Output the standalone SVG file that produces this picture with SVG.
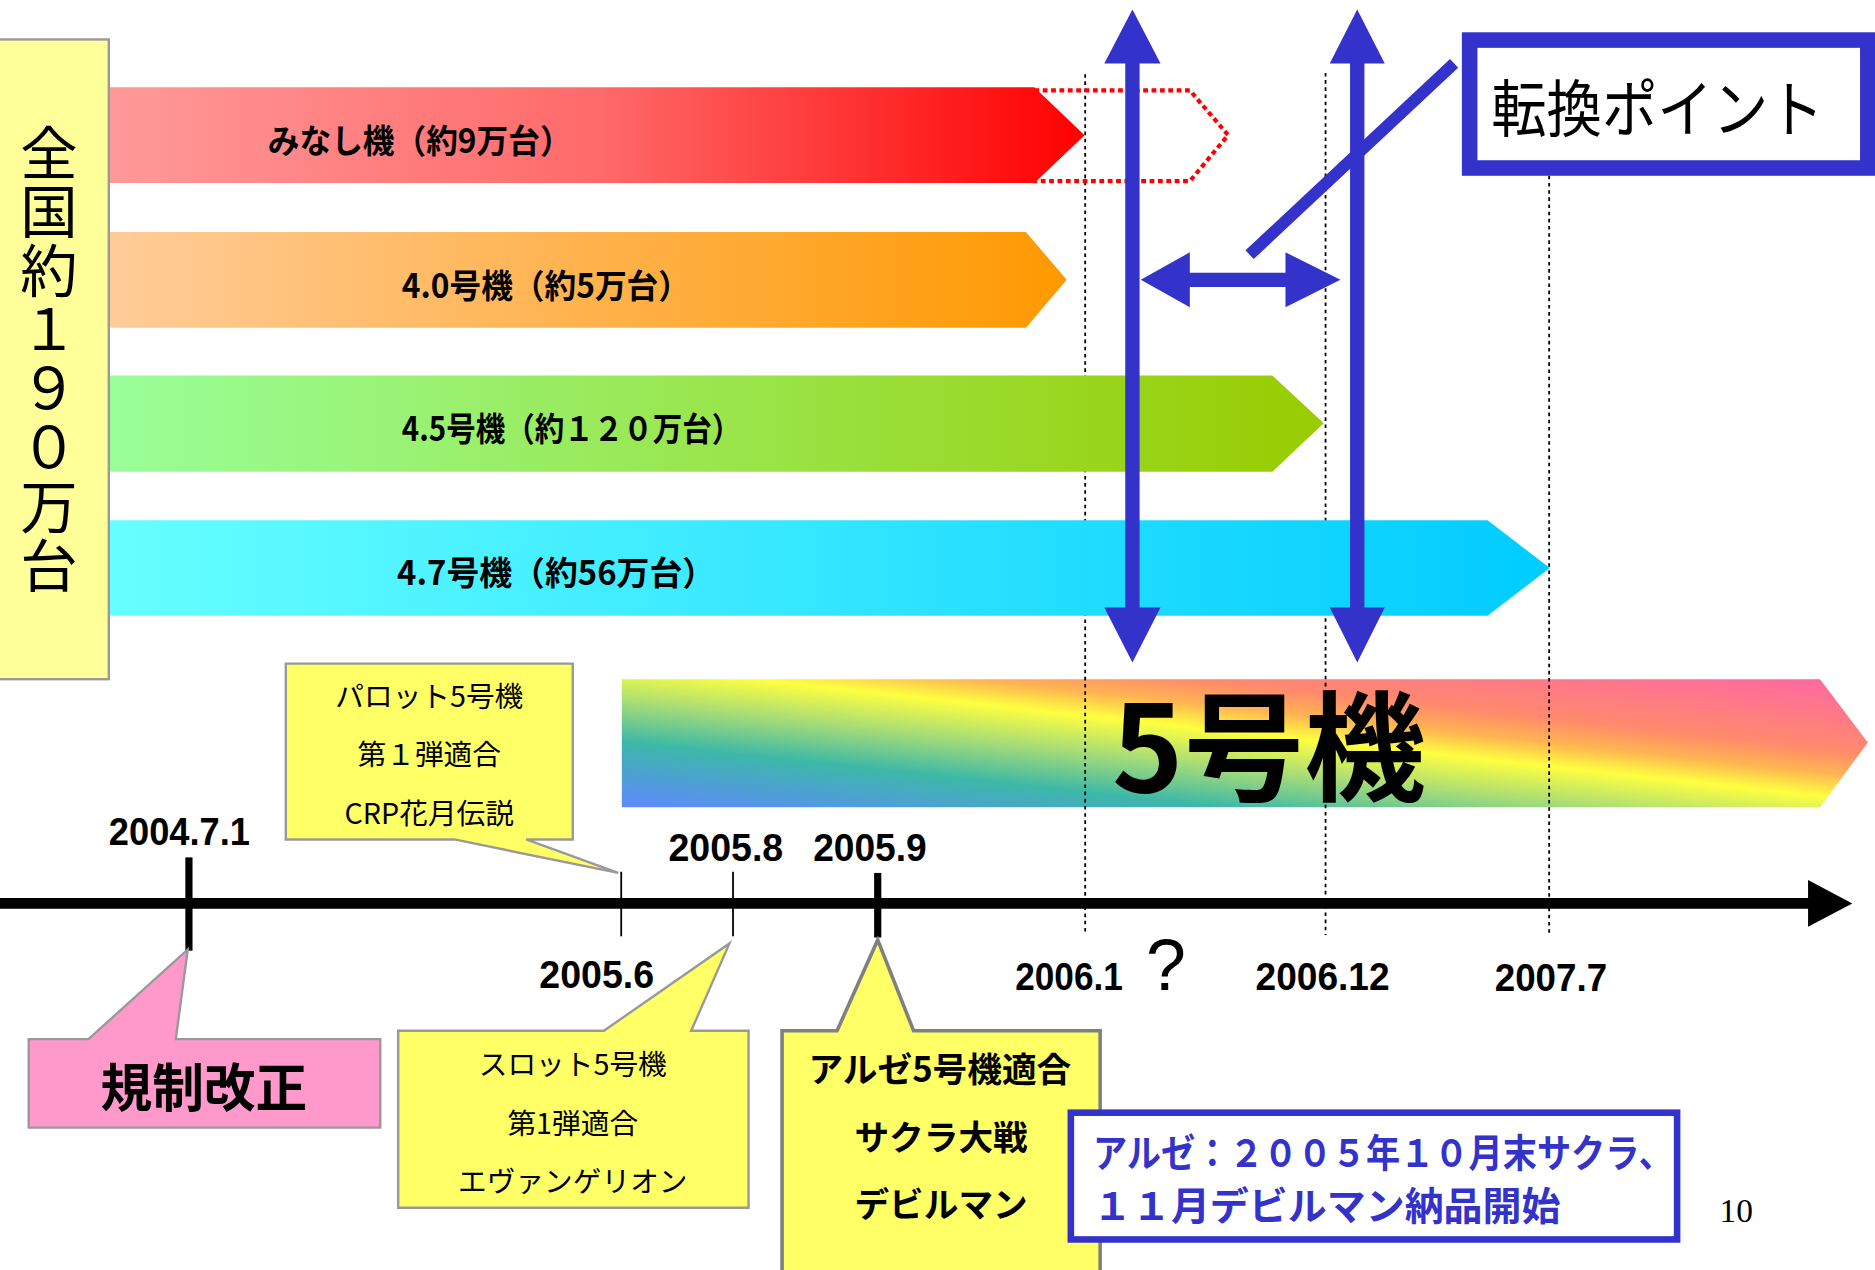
<svg xmlns="http://www.w3.org/2000/svg" width="1875" height="1270" viewBox="0 0 1875 1270">
<defs>
<linearGradient id="gRed" x1="0" y1="0" x2="1" y2="0"><stop offset="0" stop-color="#FF9999"/><stop offset="0.5" stop-color="#FF6A6A"/><stop offset="1" stop-color="#FF0000"/></linearGradient>
<linearGradient id="gOrange" x1="0" y1="0" x2="1" y2="0"><stop offset="0" stop-color="#FFCC99"/><stop offset="1" stop-color="#FF9900"/></linearGradient>
<linearGradient id="gGreen" x1="0" y1="0" x2="1" y2="0"><stop offset="0" stop-color="#99FF99"/><stop offset="1" stop-color="#99CC00"/></linearGradient>
<linearGradient id="gCyan" x1="0" y1="0" x2="1" y2="0"><stop offset="0" stop-color="#66FFFF"/><stop offset="1" stop-color="#00CCFF"/></linearGradient>
<linearGradient id="gRainbow" gradientUnits="userSpaceOnUse" x1="1562" y1="568" x2="1538" y2="787">
<stop offset="0" stop-color="#FF66A6"/><stop offset="0.28" stop-color="#FF8A6C"/><stop offset="0.37" stop-color="#FFB452"/><stop offset="0.46" stop-color="#FFFF40"/><stop offset="0.6" stop-color="#A6DC78"/><stop offset="0.75" stop-color="#3CB8A8"/><stop offset="1" stop-color="#6088FF"/>
</linearGradient>
</defs>
<style>
.jp{font-family:"Noto Sans CJK JP","Noto Sans CJK SC",sans-serif}
.b{font-weight:bold}
.num{font-family:"Liberation Sans",Arial,sans-serif;font-weight:bold;font-size:33px;fill:#000}
.call{fill:#FFFF66;stroke:#999999;stroke-width:2}
.dot{stroke:#000;stroke-width:1.5;stroke-dasharray:3 3;fill:none}
.blue{fill:#3333CC}
.bar{font-size:28px;font-weight:bold}
.ctext{font-size:24px}
.vert{writing-mode:vertical-rl}
</style>
<rect x="0" y="0" width="1875" height="1270" fill="#FFFFFF"/>
<g transform="scale(1.1958)">
<g id="total">
<rect x="-2" y="33" width="93" height="535" fill="#FFFF99" stroke="#999999" stroke-width="2"/>
<text class="jp vert" font-size="48" x="41" y="103" letter-spacing="1.4">全国約１９０万台</text>
</g>
<g id="gen5">
<polygon points="520,568 1522,568 1562,621 1522,675 520,675" fill="url(#gRainbow)"/>
</g>
<g id="guides">
<line class="dot" x1="907.5" y1="62" x2="907.5" y2="782"/>
<line class="dot" x1="1108.5" y1="61" x2="1108.5" y2="782"/>
<line class="dot" x1="1295.5" y1="147" x2="1295.5" y2="782"/>
</g>
<text class="jp b" font-size="100" x="930" y="662" textLength="262" lengthAdjust="spacingAndGlyphs">5号機</text>
<g id="minashi">
<polyline points="865,75.5 995,75.5 1027,113 995,151.5 860,151.5" fill="none" stroke="#FF0000" stroke-width="3.5" stroke-dasharray="4 3"/>
<polygon points="92,73 865,73 907,113 865,153 92,153" fill="url(#gRed)"/>
<text class="jp bar" x="224" y="128" textLength="254" lengthAdjust="spacingAndGlyphs">みなし機（約9万台）</text>
</g>
<g id="g40">
<polygon points="92,194 858,194 892,234 858,274 92,274" fill="url(#gOrange)"/>
<text class="jp bar" x="336" y="249" textLength="241" lengthAdjust="spacingAndGlyphs">4.0号機（約5万台）</text>
</g>
<g id="g45">
<polygon points="92,314 1064,314 1107,354 1064,394.5 92,394.5" fill="url(#gGreen)"/>
<text class="jp bar" x="336" y="369" textLength="284" lengthAdjust="spacingAndGlyphs">4.5号機（約１２０万台）</text>
</g>
<g id="g47">
<polygon points="92,435 1244,435 1296,475 1244,515 92,515" fill="url(#gCyan)"/>
<text class="jp bar" x="332" y="489" textLength="266" lengthAdjust="spacingAndGlyphs">4.7号機（約56万台）</text>
</g>
<g id="timeline">
<line x1="0" y1="755.5" x2="1515" y2="755.5" stroke="#000" stroke-width="9"/>
<polygon points="1512,736 1549,755.5 1512,775" fill="#000"/>
<rect x="155" y="717" width="6" height="78" fill="#000"/>
<line x1="519.5" y1="729" x2="519.5" y2="783" stroke="#000" stroke-width="1.5"/>
<line x1="613" y1="729" x2="613" y2="783" stroke="#000" stroke-width="1.5"/>
<rect x="731" y="730" width="6" height="54" fill="#000"/>
<text class="num" x="91" y="707" textLength="118" lengthAdjust="spacingAndGlyphs">2004.7.1</text>
<text class="num" x="559" y="720" textLength="96" lengthAdjust="spacingAndGlyphs">2005.8</text>
<text class="num" x="680" y="720" textLength="95" lengthAdjust="spacingAndGlyphs">2005.9</text>
<text class="num" x="451" y="826" textLength="96" lengthAdjust="spacingAndGlyphs">2005.6</text>
<text class="num" x="849" y="828" textLength="90" lengthAdjust="spacingAndGlyphs">2006.1</text>
<text class="num" x="1050" y="828" textLength="112" lengthAdjust="spacingAndGlyphs">2006.12</text>
<text class="num" x="1250" y="829" textLength="94" lengthAdjust="spacingAndGlyphs">2007.7</text>
<text x="975" y="828" font-family="Liberation Sans,Arial,sans-serif" font-size="60" text-anchor="middle">?</text>
</g>
<g id="kisei">
<path d="M24,869 H74 L157,794 L147,869 H318 V943 H24 Z" fill="#FF99CC" stroke="#999999" stroke-width="2"/>
<text class="jp b" font-size="44" x="84" y="926" textLength="173" lengthAdjust="spacingAndGlyphs">規制改正</text>
</g>
<g id="pachislot">
<path class="call" d="M239,555 H479 V702 H440 L517,730 L380,702 H239 Z"/>
<text class="jp ctext" text-anchor="middle"><tspan x="359" y="591">パロット5号機</tspan><tspan x="359" y="640">第１弾適合</tspan><tspan x="359" y="689">CRP花月伝説</tspan></text>
</g>
<g id="slot">
<path class="call" d="M333,862 H505 L610,789 L578,862 H626 V1010 H333 Z"/>
<text class="jp ctext" text-anchor="middle"><tspan x="479" y="899">スロット5号機</tspan><tspan x="479" y="948">第1弾適合</tspan><tspan x="479" y="997">エヴァンゲリオン</tspan></text>
</g>
<g id="aruze">
<path d="M654,862 H700 L734,786 L764,862 H920 V1075 H654 Z" fill="#FFFF66" stroke="#808080" stroke-width="3"/>
<text class="jp b" font-size="29" text-anchor="middle"><tspan x="786" y="905">アルゼ5号機適合</tspan><tspan x="787" y="962">サクラ大戦</tspan><tspan x="787" y="1018">デビルマン</tspan></text>
</g>
<g id="note">
<rect x="895.5" y="930.5" width="507" height="106" fill="#FFFFFF" stroke="#3333CC" stroke-width="5.5"/>
<text class="jp b" font-size="32" fill="#3333CC" x="914" y="976" textLength="485" lengthAdjust="spacingAndGlyphs">アルゼ：２００５年１０月末サクラ、</text>
<text class="jp b" font-size="32" fill="#3333CC" x="914" y="1020" textLength="391" lengthAdjust="spacingAndGlyphs">１１月デビルマン納品開始</text>
</g>
<g id="connectors">
<rect class="blue" x="941" y="50" width="12" height="460"/>
<polygon class="blue" points="947,8 970.5,53 923.5,53"/>
<polygon class="blue" points="923.5,508 970.5,508 947,554"/>
<rect class="blue" x="1129" y="50" width="12" height="460"/>
<polygon class="blue" points="1135,8 1158,53 1112,53"/>
<polygon class="blue" points="1112,508 1158,508 1135,554"/>
<polygon class="blue" points="954,234 995,211 995,228 1075,228 1075,211 1121,234 1075,257 1075,240 995,240 995,257"/>
<line x1="1216" y1="53" x2="1045" y2="213" stroke="#3333CC" stroke-width="10"/>
</g>
<g id="tenkan">
<rect x="1229" y="33.5" width="333" height="107" fill="#FFFFFF" stroke="#3333CC" stroke-width="13"/>
<text class="jp" font-size="52" x="1247" y="110" textLength="278" lengthAdjust="spacingAndGlyphs">転換ポイント</text>
</g>
<text x="1438" y="1022" font-family="Liberation Serif,Times New Roman,serif" font-size="28" textLength="28" lengthAdjust="spacingAndGlyphs">10</text>
</g>
</svg>
